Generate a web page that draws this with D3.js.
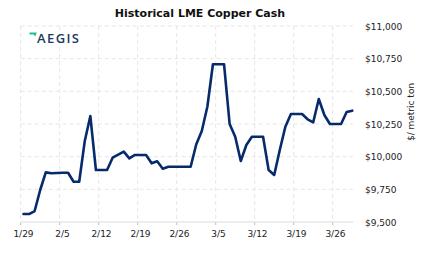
<!DOCTYPE html>
<html><head><meta charset="utf-8">
<script src="https://cdn.jsdelivr.net/npm/d3@7"></script>
<style>body{margin:0;background:#fff}svg{display:block}</style>
</head><body><svg id="c" width="423" height="257"></svg>
<script>
const startDate = "2022-01-29";
const endDate = "2022-03-30";
const values = [
  9561, 9561, 9584, 9745, 9880, 9873, 9875, 9877, 9877, 9808,
  9808, 10120, 10311, 9898, 9898, 9898, 9992, 10015, 10038, 9987,
  10013, 10013, 10013, 9949, 9965, 9908, 9923, 9923, 9923, 9923,
  9923, 10093, 10196, 10382, 10707, 10707, 10707, 10250, 10153, 9967,
  10089, 10153, 10153, 10153, 9898, 9860, 10051, 10229, 10327, 10327,
  10327, 10286, 10263, 10441, 10319, 10250, 10250, 10250, 10342, 10352
];
const xTickLabels = ["1/29","2/5","2/12","2/19","2/26","3/5","3/12","3/19","3/26"];
const yTicks = [9500, 9750, 10000, 10250, 10500, 10750, 11000];

const svg = d3.select("#c");
const parse = d3.timeParse("%Y-%m-%d");
const d0 = parse(startDate), d1 = parse(endDate);
const dates = d3.timeDays(d0, d1);
const data = dates.map((d, i) => ({date: d, value: values[i]}));

const x = d3.scaleTime().domain([d0, d1]).range([20.7, 355]);
const y = d3.scaleLinear().domain([9500, 11000]).range([222, 26]);
const tickDates = xTickLabels.map((_, i) => d3.timeDay.offset(d0, i * 7));
const mid = d => d3.timeHour.offset(d, 12);

const grid = svg.append("g");
grid.selectAll("line.h").data(yTicks.filter(v => v > 9500)).join("line")
  .attr("x1", 20.7).attr("x2", 353).attr("y1", d => y(d)).attr("y2", d => y(d))
  .attr("stroke", "#e6e6e6").attr("stroke-dasharray", "4,3");
grid.selectAll("line.v").data(tickDates).join("line")
  .attr("x1", d => x(d)).attr("x2", d => x(d)).attr("y1", 26).attr("y2", 222)
  .attr("stroke", "#e6e6e6").attr("stroke-dasharray", "4,3");
svg.append("line").attr("x1", 20.7).attr("x2", 353).attr("y1", y(9500)).attr("y2", y(9500))
  .attr("stroke", "#dcdcdc").attr("stroke-width", 1.2);
svg.selectAll("line.t").data(tickDates).join("line")
  .attr("x1", d => x(d)).attr("x2", d => x(d)).attr("y1", 222.5).attr("y2", 225)
  .attr("stroke", "#bbb");

svg.selectAll("text.xl").data(xTickLabels).join("text")
  .attr("x", (d, i) => x(mid(tickDates[i]))).attr("y", 237)
  .attr("text-anchor", "middle")
  .attr("font-family", "DejaVu Sans, Verdana, sans-serif").attr("font-size", 9)
  .attr("fill", "#222").text(d => d);

const fmt = d3.format("$,");
svg.selectAll("text.yl").data(yTicks).join("text")
  .attr("x", 365).attr("y", d => y(d) + 3.5)
  .attr("font-family", "DejaVu Sans, Verdana, sans-serif").attr("font-size", 9)
  .attr("fill", "#222").text(d => fmt(d));

svg.append("text").attr("transform", "translate(414,112) rotate(-90)")
  .attr("text-anchor", "middle")
  .attr("font-family", "DejaVu Sans, Verdana, sans-serif").attr("font-size", 9)
  .attr("fill", "#222").text("$/ metric ton");

svg.append("text").attr("x", 200).attr("y", 17).attr("text-anchor", "middle")
  .attr("font-family", "DejaVu Sans, Verdana, sans-serif").attr("font-size", 11)
  .attr("font-weight", "bold").attr("fill", "#111").text("Historical LME Copper Cash");

// logo
svg.append("path").attr("d", "M29.5,32.5 L36.8,32.5 L35.2,36.5 L33.6,34.6 L29.5,34.6 Z").attr("fill", "#1dbf8c");
svg.append("text").attr("x", 37).attr("y", 42.5)
  .attr("font-family", "Open Sans, sans-serif").attr("font-size", 13)
  .attr("font-weight", 600)
  .attr("letter-spacing", 1.4).attr("fill", "#1f3a5c").text("AEGIS");

svg.append("path").datum(data)
  .attr("d", d3.line().x(d => x(mid(d.date))).y(d => y(d.value)))
  .attr("fill", "none").attr("stroke", "#062a6b").attr("stroke-width", 2.6)
  .attr("stroke-linejoin", "round").attr("stroke-linecap", "round");
</script></body></html>
